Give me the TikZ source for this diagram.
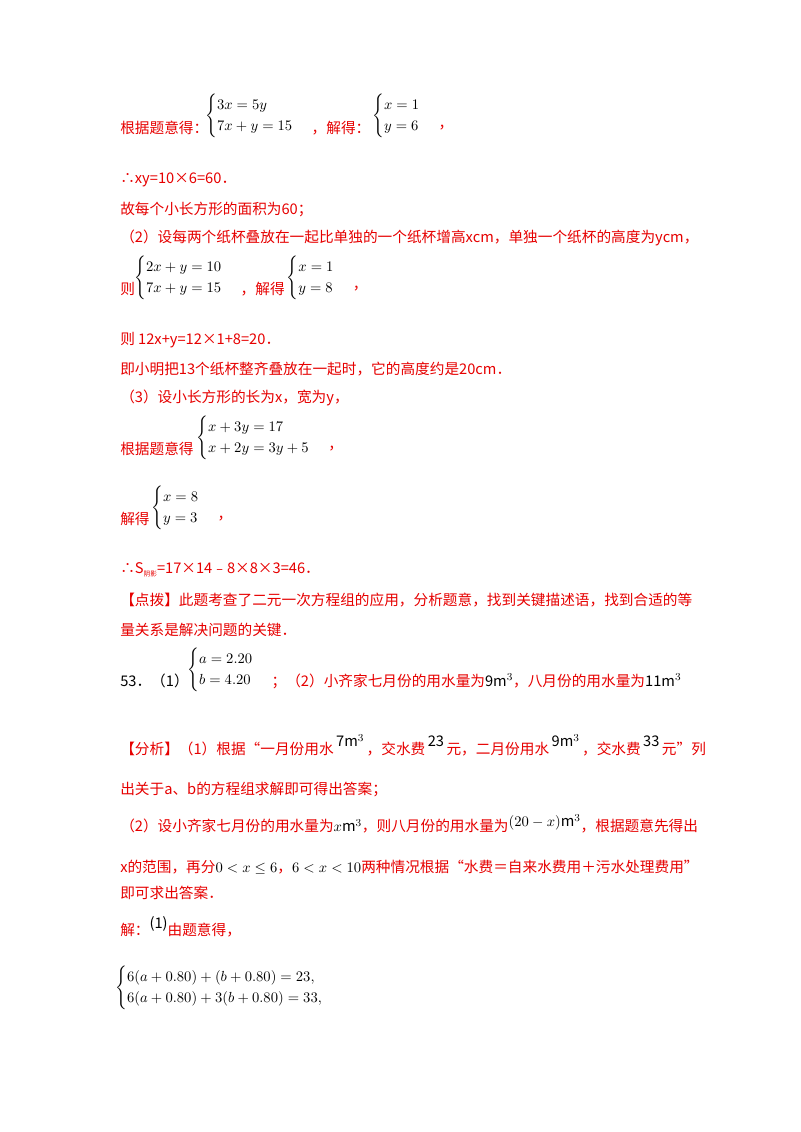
\documentclass[tikz,border=0pt]{standalone}
\usepackage{amsmath}
\usepackage{fontspec}
\setmainfont{Noto Sans CJK SC}
\definecolor{rd}{RGB}{230,0,0}
\begin{document}
\begin{tikzpicture}[x=0.75pt,y=-0.75pt,
  t/.style={anchor=west,inner sep=0pt,font=\fontsize{11}{13}\selectfont,text=rd},
  m/.style={anchor=west,inner sep=0pt,font=\fontsize{11}{13}\selectfont,text=black}]
\useasboundingbox (0,0) rectangle (800,1132);
\node[t] (a1) at (120,128) {根据题意得：};
\node[m] (a2) at (205,116) {$\begin{cases}3x=5y\\7x+y=15\end{cases}$};
\node[t] (a3) at ([xshift=2pt]a2.east |- a1) {，解得：};
\node[m] (a4) at ([xshift=1pt]a3.east |- a2) {$\begin{cases}x=1\\y=6\end{cases}$};
\node[t] (a5) at ([xshift=2pt]a4.east |- a1) {，};
\node[t] (b1) at (120,180) {∴xy=10×6=60．};
\node[t] (b2) at (120,209) {故每个小长方形的面积为60；};
\node[t] (b3) at (120,238) {（2）设每两个纸杯叠放在一起比单独的一个纸杯增高xcm，单独一个纸杯的高度为ycm，};
\node[t] (c1) at (120,289) {则};
\node[m] (c2) at (134,278) {$\begin{cases}2x+y=10\\7x+y=15\end{cases}$};
\node[t] (c3) at ([xshift=2pt]c2.east |- c1) {，解得};
\node[m] (c4) at ([xshift=1pt]c3.east |- c2) {$\begin{cases}x=1\\y=8\end{cases}$};
\node[t] (c5) at ([xshift=2pt]c4.east |- c1) {，};
\node[t] (d1) at (120,340) {则 12x+y=12×1+8=20．};
\node[t] (d2) at (120,369) {即小明把13个纸杯整齐叠放在一起时，它的高度约是20cm．};
\node[t] (d3) at (120,398) {（3）设小长方形的长为x，宽为y，};
\node[t] (e1) at (120,449) {根据题意得};
\node[m] (e2) at (196,438) {$\begin{cases}x+3y=17\\x+2y=3y+5\end{cases}$};
\node[t] (e3) at ([xshift=2pt]e2.east |- e1) {，};
\node[t] (f1) at (120,519) {解得};
\node[m] (f2) at (151,508) {$\begin{cases}x=8\\y=3\end{cases}$};
\node[t] (f3) at ([xshift=2pt]f2.east |- f1) {，};
\node[t] (g1) at (120,570) {∴S\raisebox{-2pt}{\tiny 阴影}=17×14﹣8×8×3=46．};
\node[t] (g2) at (120,600) {【点拨】此题考查了二元一次方程组的应用，分析题意，找到关键描述语，找到合适的等};
\node[t] (g3) at (120,630) {量关系是解决问题的关键．};
\node[m] (h1) at (120,681) {53．（1）};
\node[m] (h2) at (187,670) {$\begin{cases}a=2.20\\b=4.20\end{cases}$};
\node[t] (h3) at ([xshift=2pt]h2.east |- h1) {；（2）小齐家七月份的用水量为\textcolor{black}{9m$^3$}，八月份的用水量为\textcolor{black}{11m$^3$}};
\node[t] (i1) at (120,745) {【分析】（1）根据“一月份用水\,\textcolor{black}{\raisebox{6pt}{7m$^3$}}\,，交水费\,\textcolor{black}{\raisebox{6pt}{23}}\,元，二月份用水\,\textcolor{black}{\raisebox{6pt}{9m$^3$}}\,，交水费\,\textcolor{black}{\raisebox{6pt}{33}}\,元”列};
\node[t] (i2) at (120,789) {出关于\textit{a}、\textit{b}的方程组求解即可得出答案；};
\node[t] (i3) at (120,824) {（2）设小齐家七月份的用水量为\textcolor{black}{$x$m$^3$}，则八月份的用水量为\textcolor{black}{\raisebox{4pt}{$(20-x)$m$^3$}}，根据题意先得出};
\node[t] (i4) at (120,867) {\textit{x}的范围，再分\textcolor{black}{$0<x\le6$}，\textcolor{black}{$6<x<10$}两种情况根据“水费＝自来水费用＋污水处理费用”};
\node[t] (i5) at (120,893) {即可求出答案．};
\node[t] (j1) at (120,927) {解：\textcolor{black}{\raisebox{5pt}{(1)}}由题意得，};
\node[m] (j2) at (115,988) {$\begin{cases}6(a+0.80)+(b+0.80)=23,\\6(a+0.80)+3(b+0.80)=33,\end{cases}$};
\end{tikzpicture}
\end{document}
